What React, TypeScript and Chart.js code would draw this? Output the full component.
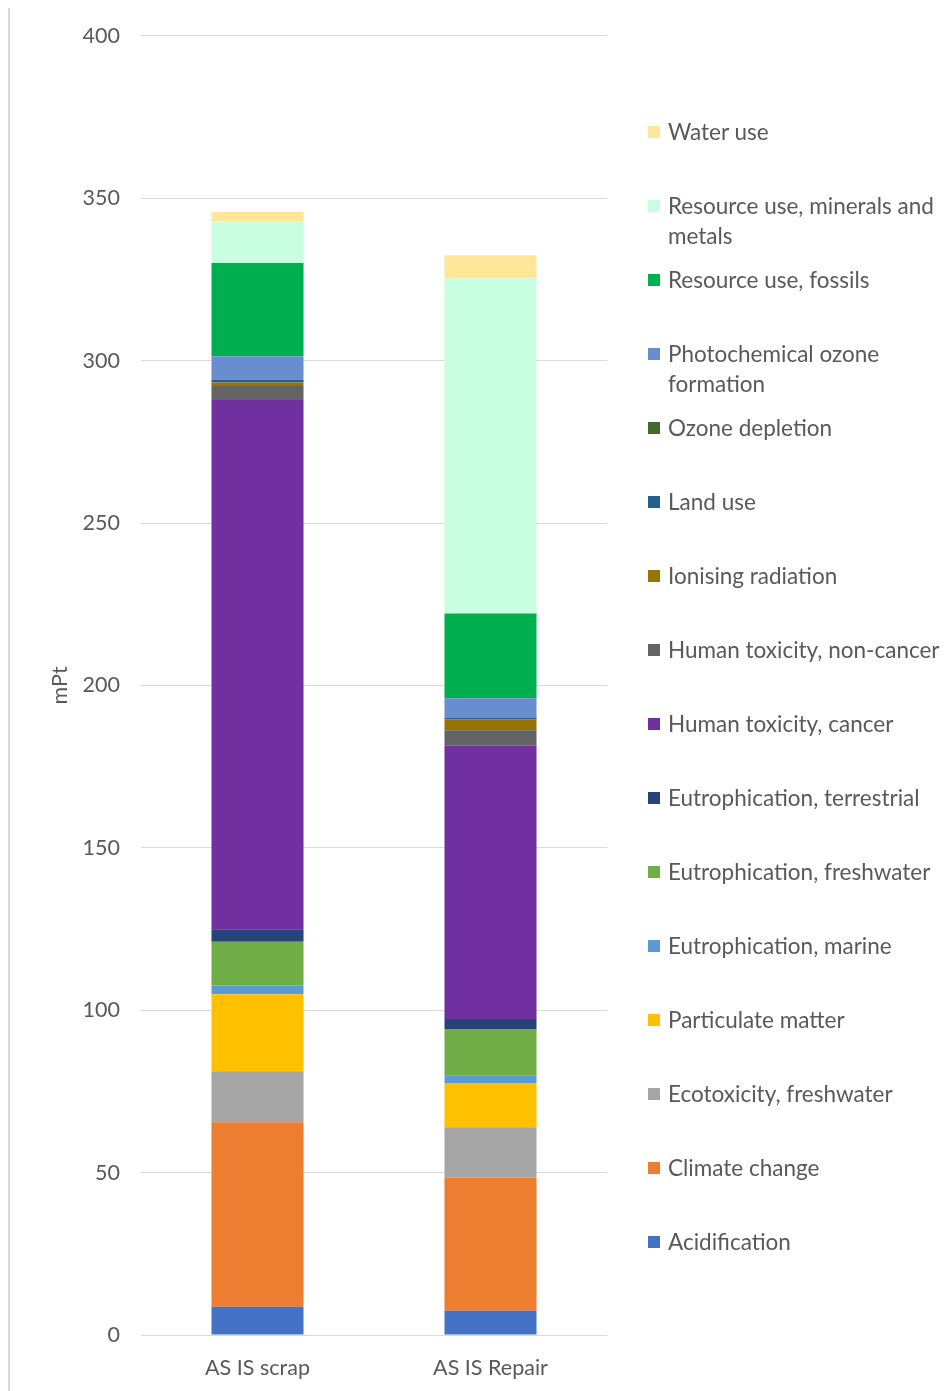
import React, { useEffect, useRef } from "react";
import { Chart, registerables } from "chart.js";

Chart.register(...registerables);

// Categories on the x axis
const categories = ["AS IS scrap", "AS IS Repair"];

// Impact categories, stacked bottom to top
const seriesNames = [
  "Acidification",
  "Climate change",
  "Ecotoxicity, freshwater",
  "Particulate matter",
  "Eutrophication, marine",
  "Eutrophication, freshwater",
  "Eutrophication, terrestrial",
  "Human toxicity, cancer",
  "Human toxicity, non-cancer",
  "Ionising radiation",
  "Land use",
  "Ozone depletion",
  "Photochemical ozone formation",
  "Resource use, fossils",
  "Resource use, minerals and metals",
  "Water use",
];

// Values in mPt per category: [AS IS scrap, AS IS Repair]
const acidification = [8.7, 7.5];
const climateChange = [56.8, 41.0];
const ecotoxicityFreshwater = [15.7, 15.5];
const particulateMatter = [23.7, 13.6];
const eutrophicationMarine = [2.7, 2.4];
const eutrophicationFreshwater = [13.5, 14.2];
const eutrophicationTerrestrial = [3.8, 3.1];
const humanToxicityCancer = [163.0, 84.1];
const humanToxicityNonCancer = [4.3, 4.8];
const ionisingRadiation = [1.1, 3.4];
const landUse = [0.8, 0.5];
const ozoneDepletion = [0.05, 0.05];
const photochemicalOzone = [7.2, 5.9];
const resourceFossils = [28.7, 26.1];
const resourceMinerals = [12.9, 103.2];
const waterUse = [2.8, 7.1];

const seriesValues = [
  acidification,
  climateChange,
  ecotoxicityFreshwater,
  particulateMatter,
  eutrophicationMarine,
  eutrophicationFreshwater,
  eutrophicationTerrestrial,
  humanToxicityCancer,
  humanToxicityNonCancer,
  ionisingRadiation,
  landUse,
  ozoneDepletion,
  photochemicalOzone,
  resourceFossils,
  resourceMinerals,
  waterUse,
];

const seriesColors = [
  "#4472C4",
  "#ED7D31",
  "#A5A5A5",
  "#FFC000",
  "#5B9BD5",
  "#70AD47",
  "#264478",
  "#7030A0",
  "#636363",
  "#997300",
  "#255E91",
  "#43682B",
  "#698ED0",
  "#00B050",
  "#C9FFE1",
  "#FFE699",
];

// Y axis ticks
const yMin = 0;
const yMax = 400;
const yStep = 50;
const yTitle = "mPt";

const FONT = "Lato, 'Noto Sans', sans-serif";
const AXIS_FONT_SIZE = 21.5;
const LEGEND_FONT_SIZE = 22.5;
const TEXT_COLOR = "#595959";
const GRID_COLOR = "#D9D9D9";

const W = 944;
const H = 1383;
const CANVAS_TOP = -6;
const CANVAS_H = H - CANVAS_TOP;

export default function App() {
  const canvasRef = useRef<HTMLCanvasElement | null>(null);

  useEffect(() => {
    const canvas = canvasRef.current;
    if (!canvas) return;
    const chart = new Chart(canvas, {
      type: "bar",
      data: {
        labels: categories,
        datasets: seriesNames.map((name, i) => ({
          label: name,
          data: seriesValues[i],
          backgroundColor: seriesColors[i],
          borderWidth: 0,
          categoryPercentage: 1,
          barPercentage: 0.395,
        })),
      },
      options: {
        responsive: false,
        animation: false,
        devicePixelRatio: 1,
        layout: { padding: { left: 0, right: 345, top: 21, bottom: 0 } },
        plugins: {
          legend: { display: false },
          tooltip: { enabled: false },
        },
        scales: {
          x: {
            stacked: true,
            grid: { display: false, drawTicks: false },
            border: { display: false },
            ticks: {
              color: TEXT_COLOR,
              padding: 20,
              font: { family: FONT, size: AXIS_FONT_SIZE },
              maxRotation: 0,
            },
            afterFit: (scale: any) => {
              scale.height = 56;
            },
          },
          y: {
            stacked: true,
            min: yMin,
            max: yMax,
            ticks: {
              stepSize: yStep,
              color: TEXT_COLOR,
              padding: 21,
              font: { family: FONT, size: AXIS_FONT_SIZE },
            },
            grid: { color: GRID_COLOR, lineWidth: 1, drawTicks: false },
            border: { display: false },
            title: {
              display: true,
              text: yTitle,
              color: TEXT_COLOR,
              font: { family: FONT, size: AXIS_FONT_SIZE },
              padding: { top: 39, bottom: 0 },
            },
            afterFit: (scale: any) => {
              scale.width = 133;
            },
          },
        },
      },
    });
    return () => chart.destroy();
  }, []);

  // Legend lists series top to bottom, matching the stack order
  const legendOrder = seriesNames.map((_, i) => i).reverse();

  return (
    <div style={{ position: "relative", width: W, height: H }}>
      <div
        style={{
          position: "absolute",
          left: 0,
          top: -2,
          width: W,
          height: H + 2,
          boxSizing: "border-box",
          borderLeft: "2px solid #D9D9D9",
          borderTop: "2px solid #D9D9D9",
        }}
      />
      <canvas
        ref={canvasRef}
        width={W}
        height={CANVAS_H}
        style={{ position: "absolute", left: 0, top: CANVAS_TOP, width: W, height: CANVAS_H }}
      />
      {legendOrder.map((idx, k) => (
        <div
          key={seriesNames[idx]}
          style={{
            position: "absolute",
            left: 640,
            top: 109 + k * 74,
            width: 296,
            display: "flex",
            alignItems: "flex-start",
            fontFamily: FONT,
            fontSize: LEGEND_FONT_SIZE,
            lineHeight: "30px",
            color: TEXT_COLOR,
          }}
        >
          <span
            style={{
              flex: "0 0 auto",
              width: 12,
              height: 12,
              marginTop: 9,
              marginRight: 8,
              background: seriesColors[idx],
            }}
          />
          <span>{seriesNames[idx]}</span>
        </div>
      ))}
    </div>
  );
}
